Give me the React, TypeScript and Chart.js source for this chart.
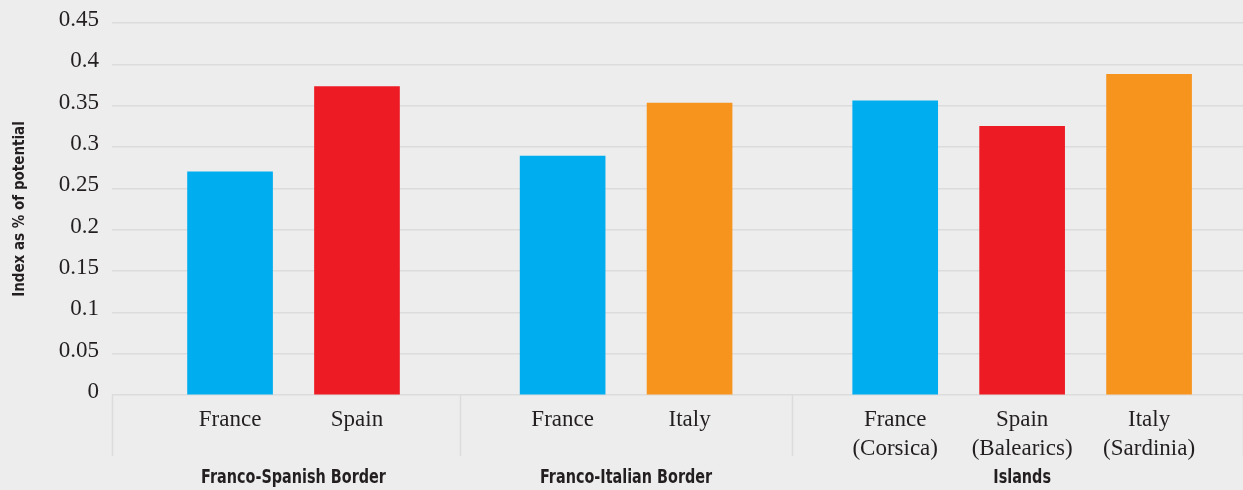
import React, { useEffect, useRef } from "react";
import { Chart, registerables } from "chart.js";

Chart.register(...registerables);

// ---- data ----
const GROUPS = ["Franco-Spanish Border", "Franco-Italian Border", "Islands"];
const CATEGORIES: string[][] = [
  ["France"],
  ["Spain"],
  ["France"],
  ["Italy"],
  ["France", "(Corsica)"],
  ["Spain", "(Balearics)"],
  ["Italy", "(Sardinia)"],
];
const GROUP_OF = [0, 0, 1, 1, 2, 2, 2];
const COUNTRY = ["France", "Spain", "France", "Italy", "France", "Spain", "Italy"];
const VALUES = [0.27, 0.373, 0.289, 0.353, 0.356, 0.325, 0.388];
const Y_TITLE = "Index as % of potential";

// ---- style / layout ----
const COUNTRY_COLORS: Record<string, string> = {
  France: "#00aeef",
  Spain: "#ed1c24",
  Italy: "#f7941d",
};
const BG = "#ededed";
const GRID = "#dcdcdc";
const TEXT = "#231f20";
const SERIF = "'Liberation Serif', 'Times New Roman', serif";
const COND = "'DejaVu Sans Condensed', sans-serif";
const LAYOUT = { leftPad: 0.93, rightPad: 0.74, groupGap: 1.62 };

function slotPositions(): number[] {
  const out: number[] = [];
  let x = 0;
  GROUP_OF.forEach((g, i) => {
    if (i > 0) x += g !== GROUP_OF[i - 1] ? LAYOUT.groupGap : 1;
    out.push(x);
  });
  return out;
}

export default function App() {
  const ref = useRef<HTMLCanvasElement | null>(null);

  useEffect(() => {
    document.body.style.margin = "0";
    document.body.style.background = BG;
    const pos = slotPositions();
    const xmin = pos[0] - LAYOUT.leftPad;
    const xmax = pos[pos.length - 1] + LAYOUT.rightPad;

    const groupDeco = {
      id: "groupDeco",
      beforeDraw(chart: any) {
        const { ctx } = chart;
        ctx.save();
        ctx.fillStyle = BG;
        ctx.fillRect(0, 0, chart.width, chart.height);
        ctx.restore();
      },
      afterDraw(chart: any) {
        const { ctx, chartArea } = chart;
        const xs = chart.scales.x;
        const bottom = chartArea.bottom;
        // separators
        const seps: number[] = [xmin];
        for (let i = 1; i < pos.length; i++) {
          if (GROUP_OF[i] !== GROUP_OF[i - 1]) seps.push((pos[i] + pos[i - 1]) / 2);
        }
        seps.push(xmax);
        ctx.save();
        ctx.strokeStyle = GRID;
        ctx.lineWidth = 1.5;
        seps.forEach((s) => {
          const px = Math.round(xs.getPixelForValue(s)) + 0.5;
          ctx.beginPath();
          ctx.moveTo(px, bottom);
          ctx.lineTo(px, bottom + 61);
          ctx.stroke();
        });
        // group labels
        ctx.fillStyle = TEXT;
        ctx.font = `bold 16px ${COND}`;
        ctx.textAlign = "center";
        ctx.textBaseline = "middle";
        GROUPS.forEach((name, g) => {
          const members = pos.filter((_, i) => GROUP_OF[i] === g);
          const c = members.reduce((a, b) => a + b, 0) / members.length;
          ctx.save();
          ctx.translate(xs.getPixelForValue(c), bottom + 83);
          ctx.scale(1, 1.25);
          ctx.fillText(name, 0, 0);
          ctx.restore();
        });
        ctx.restore();
      },
    };

    const chart = new Chart(ref.current as HTMLCanvasElement, {
      type: "bar",
      data: {
        datasets: [
          {
            data: VALUES.map((v, i) => ({ x: pos[i], y: v })),
            backgroundColor: COUNTRY.map((c) => COUNTRY_COLORS[c]),
            barThickness: 85,
          } as any,
        ],
      },
      options: {
        animation: false,
        responsive: false,
        maintainAspectRatio: false,
        layout: { padding: { top: 23, left: 0, right: 0, bottom: 0 } },
        plugins: { legend: { display: false }, tooltip: { enabled: false } },
        scales: {
          x: {
            type: "linear",
            offset: false,
            min: xmin,
            max: xmax,
            afterBuildTicks: (scale: any) => {
              scale.ticks = pos.map((v) => ({ value: v }));
            },
            afterFit: (scale: any) => {
              scale.height = 95;
              scale.paddingLeft = 0;
              scale.paddingRight = 0;
            },
            grid: { display: false, drawTicks: false, offset: false },
            border: { display: false },
            ticks: {
              autoSkip: false,
              maxRotation: 0,
              minRotation: 0,
              padding: 10,
              color: TEXT,
              font: { family: SERIF, size: 23, lineHeight: 1.28 },
              callback: (_v: any, i: number) => CATEGORIES[i],
            },
          },
          y: {
            min: 0,
            max: 0.45,
            afterFit: (scale: any) => {
              scale.width = 112;
              scale.paddingTop = 0;
              scale.paddingBottom = 0;
            },
            grid: { color: GRID, lineWidth: 1.5, drawTicks: false },
            border: { display: false },
            ticks: {
              stepSize: 0.05,
              padding: 13,
              labelOffset: -3,
              color: TEXT,
              font: { family: SERIF, size: 23 },
              callback: (v: any) => String(+Number(v).toFixed(2)),
            },
            title: {
              display: true,
              text: Y_TITLE,
              color: TEXT,
              font: { family: COND, size: 15, weight: "bold" },
              padding: { top: 11, bottom: 0 },
            },
          },
        },
      },
      plugins: [groupDeco],
    } as any);
    return () => chart.destroy();
  }, []);

  return (
    <div style={{ width: 1243, height: 490, background: BG }}>
      <canvas ref={ref} width={1243} height={490} style={{ display: "block" }} />
    </div>
  );
}
